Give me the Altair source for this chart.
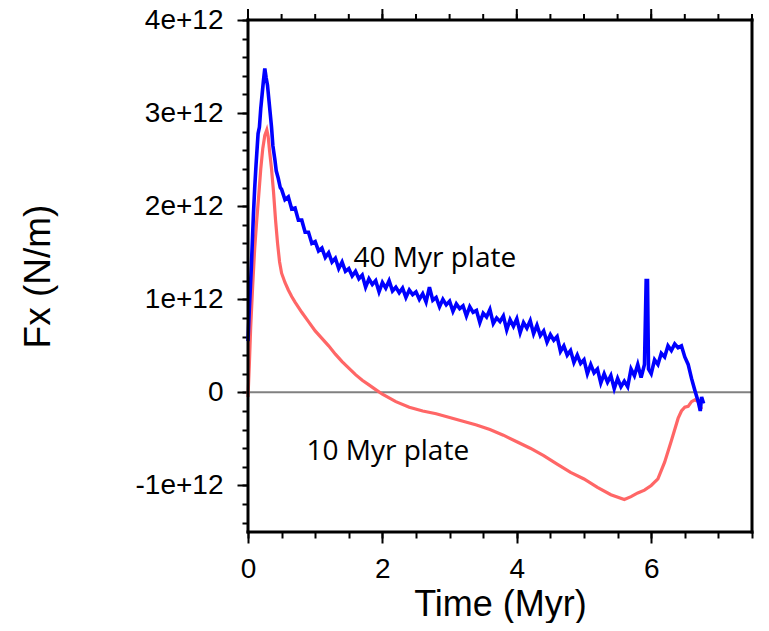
import altair as alt
import pandas as pd

# ---- data (Fx in units of 1e12 N/m, time in Myr) ----
blue_t = [0.00, 0.02, 0.05, 0.08, 0.10, 0.12, 0.15, 0.17, 0.19, 0.21, 0.23, 0.25, 0.27, 0.29,
          0.31, 0.33, 0.35, 0.37, 0.40, 0.42, 0.45, 0.48, 0.50,
          0.55, 0.60, 0.65, 0.70, 0.75, 0.80, 0.85, 0.90, 0.95, 1.00,
          1.05, 1.10, 1.15, 1.20, 1.25, 1.30, 1.35, 1.40, 1.45, 1.50,
          1.55, 1.60, 1.65, 1.70, 1.75, 1.80, 1.85, 1.90, 1.95, 2.00,
          2.05, 2.10, 2.15, 2.20, 2.25, 2.30, 2.35, 2.40, 2.45, 2.50,
          2.55, 2.60, 2.65, 2.70, 2.75, 2.80, 2.85, 2.90, 2.95, 3.00,
          3.05, 3.10, 3.15, 3.20, 3.25, 3.30, 3.35, 3.40, 3.45, 3.50,
          3.55, 3.60, 3.65, 3.70, 3.75, 3.80, 3.85, 3.90, 3.95, 4.00,
          4.05, 4.10, 4.15, 4.20, 4.25, 4.30, 4.35, 4.40, 4.45, 4.50,
          4.55, 4.60, 4.65, 4.70, 4.75, 4.80, 4.85, 4.90, 4.95, 5.00,
          5.05, 5.10, 5.15, 5.20, 5.25, 5.30, 5.35, 5.40, 5.45, 5.50,
          5.55, 5.60, 5.65, 5.70, 5.75, 5.80, 5.85, 5.90, 5.925, 5.945,
          5.96, 6.00, 6.05, 6.10, 6.15, 6.20, 6.25, 6.30, 6.35, 6.40,
          6.45, 6.50, 6.55, 6.60, 6.65, 6.70, 6.73, 6.75, 6.78]
blue_v = [0.55, 0.90, 1.35, 1.90, 2.20, 2.45, 2.78, 2.85, 3.05, 3.20, 3.35, 3.48, 3.38, 3.30,
          3.15, 3.00, 2.85, 2.65, 2.50, 2.38, 2.30, 2.20, 2.18,
          2.07, 2.10, 1.97, 1.98, 1.85, 1.85, 1.72, 1.72, 1.60, 1.62,
          1.52, 1.55, 1.45, 1.50, 1.40, 1.44, 1.33, 1.40, 1.30, 1.33,
          1.25, 1.30, 1.22, 1.26, 1.13, 1.22, 1.16, 1.20, 1.08, 1.18,
          1.12, 1.20, 1.09, 1.13, 1.07, 1.12, 1.02, 1.10, 1.05, 1.08,
          1.00, 1.06, 0.97, 1.13, 0.99, 1.02, 0.92, 1.00, 0.94, 0.98,
          0.87, 0.95, 0.90, 0.93, 0.82, 0.92, 0.86, 0.88, 0.75, 0.85,
          0.81, 0.89, 0.74, 0.80, 0.76, 0.82, 0.67, 0.78, 0.71, 0.79,
          0.64, 0.75, 0.69, 0.77, 0.63, 0.72, 0.61, 0.66, 0.54, 0.62,
          0.56, 0.60, 0.44, 0.50, 0.40, 0.45, 0.32, 0.40, 0.31, 0.35,
          0.20, 0.30, 0.21, 0.25, 0.10, 0.20, 0.11, 0.18, 0.04, 0.15,
          0.06, 0.12, 0.06, 0.25, 0.18, 0.30, 0.16, 0.30, 1.20, 1.20,
          0.25, 0.20, 0.35, 0.30, 0.42, 0.38, 0.50, 0.45, 0.52, 0.48,
          0.50, 0.38, 0.30, 0.15, 0.02, -0.10, -0.20, -0.05, -0.12]

red_t = [0.00, 0.02, 0.04, 0.07, 0.10, 0.13, 0.16, 0.19, 0.22, 0.25, 0.28, 0.30, 0.32,
         0.35, 0.38, 0.41, 0.44, 0.47, 0.50, 0.55, 0.60, 0.65, 0.70, 0.80, 0.90,
         1.00, 1.10, 1.20, 1.30, 1.40, 1.50, 1.60, 1.70, 1.80, 1.90, 2.00, 2.20,
         2.40, 2.60, 2.80, 3.00, 3.20, 3.40, 3.60, 3.80, 4.00, 4.20, 4.40, 4.60,
         4.80, 5.00, 5.20, 5.40, 5.60, 5.70, 5.80, 5.90, 6.00, 6.10, 6.20, 6.30,
         6.40, 6.45, 6.50, 6.55, 6.60, 6.65, 6.70, 6.75]
red_v = [-0.05, 0.30, 0.70, 1.15, 1.55, 1.85, 2.12, 2.40, 2.62, 2.76, 2.82, 2.75, 2.60,
         2.40, 2.15, 1.85, 1.60, 1.40, 1.28, 1.18, 1.10, 1.03, 0.97, 0.86, 0.76,
         0.66, 0.58, 0.50, 0.41, 0.33, 0.26, 0.19, 0.13, 0.08, 0.03, -0.02, -0.10,
         -0.16, -0.20, -0.23, -0.27, -0.31, -0.35, -0.40, -0.46, -0.53, -0.60, -0.68, -0.77,
         -0.86, -0.93, -1.02, -1.10, -1.15, -1.12, -1.08, -1.05, -1.00, -0.93, -0.75, -0.52,
         -0.28, -0.20, -0.16, -0.15, -0.10, -0.08, -0.10, -0.18]

zero_line = [0.0]

label_text = ["40 Myr plate", "10 Myr plate"]
label_t = [2.78, 2.08]
label_v = [1.35, -0.73]

x_major = [0.0, 2.0, 4.0, 6.0]
x_minor = [round(0.5 * i, 1) for i in range(0, 16)]
y_major = [-1, 0, 1, 2, 3, 4]
y_minor = [round(-1.4 + 0.2 * i, 1) for i in range(0, 28)]

blue_df = pd.DataFrame({"t": blue_t, "v": blue_v})
red_df = pd.DataFrame({"t": red_t, "v": red_v})
zero_df = pd.DataFrame({"v": zero_line})
label_df = pd.DataFrame({"t": label_t, "v": label_v, "label": label_text})
top_major_df = pd.DataFrame({"t": x_major})
top_minor_df = pd.DataFrame({"t": x_minor})

FONT = "Liberation Sans"
MAJ, MIN = 11, 6
W = 504          # plot frame width
H = 512          # plot frame height
HV = H + MAJ     # view height: frame plus a strip above it for the top ticks
Y_LO, Y_HI = -1.5, 4.0
Y_TOP = Y_HI + MAJ * (Y_HI - Y_LO) / H   # data value at the top of the tick strip


def xs():
    return alt.Scale(domain=[0, 7.5], nice=False, zero=False)


def ys():
    return alt.Scale(domain=[Y_LO, Y_TOP], nice=False, zero=False)


common = dict(domain=False, grid=False, tickColor="black", tickWidth=2)

x_major_axis = alt.Axis(
    values=x_major, orient="bottom", tickSize=MAJ, **common,
    format="d", labelFont=FONT, labelFontSize=28, labelColor="black", labelPadding=12,
    labelFlush=False, labelOverlap=False,
    title="Time (Myr)", titleFont=FONT, titleFontSize=36, titleFontWeight="normal",
    titleColor="black", titleX=W / 2, titleY=83, titleBaseline="alphabetic",
    titleAlign="center",
)
x_minor_axis = alt.Axis(values=x_minor, orient="bottom", tickSize=MIN, labels=False, title=None, **common)

y_major_axis = alt.Axis(
    values=y_major, orient="left", tickSize=MAJ, **common,
    labelExpr="datum.value === 0 ? '0' : datum.value + 'e+12'",
    labelFont=FONT, labelFontSize=28, labelColor="black", labelPadding=14,
    labelFlush=False, labelOverlap=False, labelBaseline="middle",
    title="Fx (N/m)", titleFont=FONT, titleFontSize=37, titleFontWeight="normal",
    titleColor="black", titleX=-199, titleY=MAJ + H / 2, titleAngle=270,
    titleBaseline="alphabetic", titleAlign="center",
)
y_minor_axis = alt.Axis(values=y_minor, orient="left", tickSize=MIN, labels=False, title=None, **common)

zero_rule = alt.Chart(zero_df).mark_rule(color="#808080", strokeWidth=2).encode(
    y=alt.Y("v:Q", scale=ys(), axis=y_minor_axis)
)

red_line = alt.Chart(red_df).mark_line(color="#ff6666", strokeWidth=3.2).encode(
    x=alt.X("t:Q", scale=xs(), axis=x_major_axis),
    y=alt.Y("v:Q", scale=ys(), axis=y_major_axis),
    order="t:Q",
)
blue_line = alt.Chart(blue_df).mark_line(color="#0000ff", strokeWidth=3.6).encode(
    x=alt.X("t:Q", scale=xs(), axis=x_minor_axis),
    y=alt.Y("v:Q", scale=ys(), axis=None),
    order="t:Q",
)

# plot frame (the view is taller than the frame by the top tick strip)
frame_style = dict(color="black", strokeWidth=3, strokeCap="square")
frame_top = alt.Chart(zero_df).mark_rule(**frame_style).encode(
    x=alt.value(0), x2=alt.value(W), y=alt.value(MAJ))
frame_bottom = alt.Chart(zero_df).mark_rule(**frame_style).encode(
    x=alt.value(0), x2=alt.value(W), y=alt.value(HV))
frame_left = alt.Chart(zero_df).mark_rule(**frame_style).encode(
    x=alt.value(0), y=alt.value(MAJ), y2=alt.value(HV))
frame_right = alt.Chart(zero_df).mark_rule(**frame_style).encode(
    x=alt.value(W), y=alt.value(MAJ), y2=alt.value(HV))

# tick marks standing on the top frame (positions come from the x scale)
top_major = alt.Chart(top_major_df).mark_tick(
    color="black", thickness=2, size=MAJ, orient="vertical", opacity=1
).encode(
    x=alt.X("t:Q", scale=xs(), axis=None),
    y=alt.value(MAJ / 2),
)
top_minor = alt.Chart(top_minor_df).mark_tick(
    color="black", thickness=2, size=MIN, orient="vertical", opacity=1
).encode(
    x=alt.X("t:Q", scale=xs(), axis=None),
    y=alt.value(MAJ - MIN / 2),
)

labels = alt.Chart(label_df).mark_text(
    font="Open Sans", fontSize=28, color="black", align="center", baseline="alphabetic"
).encode(
    x=alt.X("t:Q", scale=xs(), axis=None),
    y=alt.Y("v:Q", scale=ys(), axis=None),
    text="label:N",
)

chart = (
    alt.layer(zero_rule, red_line, blue_line, frame_top, frame_bottom, frame_left,
              frame_right, top_major, top_minor, labels)
    .resolve_scale(x="independent", y="independent")
    .resolve_axis(x="independent", y="independent")
    .properties(
        width=W, height=HV,
        padding={"left": 240, "top": 1, "right": 9, "bottom": 91},
        autosize=alt.AutoSizeParams(type="none"),
        background="white",
    )
    .configure_view(strokeWidth=0)
)

chart.save("out.html", embed_options={"renderer": "svg", "actions": False})
